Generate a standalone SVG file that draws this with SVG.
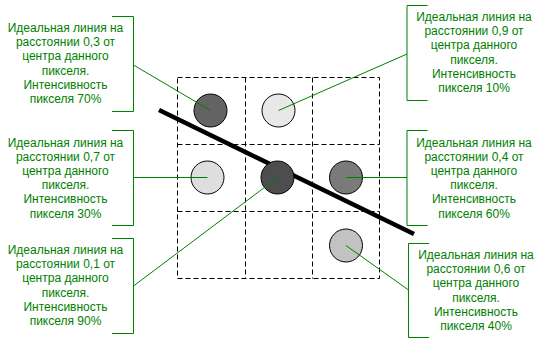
<svg xmlns="http://www.w3.org/2000/svg" width="543" height="344" viewBox="0 0 543 344">
<style>
.grid{fill:none;stroke:#000;stroke-width:1;stroke-dasharray:5,3}
.px{stroke:#000;stroke-width:1}
.br{fill:none;stroke:#008000;stroke-width:1}
.ld{stroke:#008000;stroke-width:1;fill:none}
.t{font-family:"Liberation Sans",Arial,sans-serif;font-size:12px;fill:#008000;text-anchor:middle}
</style>
<rect width="543" height="344" fill="#fff"/>
<g id="grid">
<path class="grid" d="M177.5,77.5H379.5V278.5H177.5Z M245.5,77.5V278.5 M312.5,77.5V278.5 M177.5,144.5H379.5 M177.5,211.5H379.5"/>
</g>
<g id="ideal-line">
<line x1="159" y1="110" x2="414" y2="234" stroke="#000" stroke-width="4.5"/>
</g>
<g id="pixel-70"><circle class="px" cx="210.5" cy="110.5" r="16.5" fill="#636363"/></g>
<g id="pixel-10"><circle class="px" cx="278.5" cy="110.5" r="16.5" fill="#e8e8e8"/></g>
<g id="pixel-30"><circle class="px" cx="207.5" cy="177.5" r="16.5" fill="#dedede"/></g>
<g id="pixel-90"><circle class="px" cx="277.5" cy="177.5" r="16.5" fill="#4d4d4d"/></g>
<g id="pixel-60"><circle class="px" cx="346" cy="177.5" r="16.5" fill="#7a7a7a"/></g>
<g id="pixel-40"><circle class="px" cx="346" cy="245.5" r="16.5" fill="#c2c2c2"/></g>
<g id="connectors">
<line class="ld" x1="133.5" y1="65" x2="210.5" y2="110.5"/>
<line class="ld" x1="133.5" y1="177.5" x2="207.5" y2="177.5"/>
<line class="ld" x1="133.5" y1="286" x2="277" y2="178"/>
<line class="ld" x1="407" y1="54" x2="278.5" y2="110.5"/>
<line class="ld" x1="407" y1="177.5" x2="346" y2="177.5"/>
<line class="ld" x1="408.5" y1="290" x2="346" y2="245.5"/>
</g>
<g id="label-70">
<path class="br" d="M112,16.5H133.5V111.5H112"/>
<text class="t" x="65.5" y="32"><tspan x="65.5">Идеальная линия на</tspan><tspan x="65.5" dy="14.2">расстоянии 0,3 от</tspan><tspan x="65.5" dy="14.2">центра данного</tspan><tspan x="65.5" dy="14.2">пикселя.</tspan><tspan x="65.5" dy="14.2">Интенсивность</tspan><tspan x="65.5" dy="14.2">пикселя 70%</tspan></text>
</g>
<g id="label-30">
<path class="br" d="M112,130.5H133.5V225.5H112"/>
<text class="t" x="65.5" y="146.5"><tspan x="65.5">Идеальная линия на</tspan><tspan x="65.5" dy="14.2">расстоянии 0,7 от</tspan><tspan x="65.5" dy="14.2">центра данного</tspan><tspan x="65.5" dy="14.2">пикселя.</tspan><tspan x="65.5" dy="14.2">Интенсивность</tspan><tspan x="65.5" dy="14.2">пикселя 30%</tspan></text>
</g>
<g id="label-90">
<path class="br" d="M112,238.5H133.5V333.5H112"/>
<text class="t" x="65.5" y="254"><tspan x="65.5">Идеальная линия на</tspan><tspan x="65.5" dy="14.2">расстоянии 0,1 от</tspan><tspan x="65.5" dy="14.2">центра данного</tspan><tspan x="65.5" dy="14.2">пикселя.</tspan><tspan x="65.5" dy="14.2">Интенсивность</tspan><tspan x="65.5" dy="14.2">пикселя 90%</tspan></text>
</g>
<g id="label-10">
<path class="br" d="M427.5,5.5H407V100.5H427.5"/>
<text class="t" x="474" y="21"><tspan x="474">Идеальная линия на</tspan><tspan x="474" dy="14.2">расстоянии 0,9 от</tspan><tspan x="474" dy="14.2">центра данного</tspan><tspan x="474" dy="14.2">пикселя.</tspan><tspan x="474" dy="14.2">Интенсивность</tspan><tspan x="474" dy="14.2">пикселя 10%</tspan></text>
</g>
<g id="label-60">
<path class="br" d="M427.5,130.5H407V225.5H427.5"/>
<text class="t" x="474" y="146.5"><tspan x="474">Идеальная линия на</tspan><tspan x="474" dy="14.2">расстоянии 0,4 от</tspan><tspan x="474" dy="14.2">центра данного</tspan><tspan x="474" dy="14.2">пикселя.</tspan><tspan x="474" dy="14.2">Интенсивность</tspan><tspan x="474" dy="14.2">пикселя 60%</tspan></text>
</g>
<g id="label-40">
<path class="br" d="M429,243.5H408.5V337.5H429"/>
<text class="t" x="476" y="259"><tspan x="476">Идеальная линия на</tspan><tspan x="476" dy="14.2">расстоянии 0,6 от</tspan><tspan x="476" dy="14.2">центра данного</tspan><tspan x="476" dy="14.2">пикселя.</tspan><tspan x="476" dy="14.2">Интенсивность</tspan><tspan x="476" dy="14.2">пикселя 40%</tspan></text>
</g>
</svg>
